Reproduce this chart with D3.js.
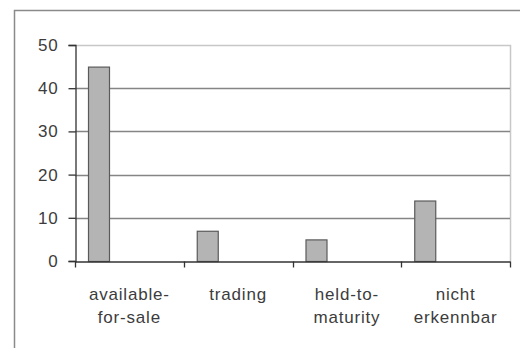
<!DOCTYPE html>
<html>
<head>
<meta charset="utf-8">
<script src="https://cdn.jsdelivr.net/npm/d3@7"></script>
<style>
  body { margin: 0; background: #fff; }
  svg { display: block; }
</style>
</head>
<body>
<div id="chart"></div>
<script>
const categories = ['available-for-sale', 'trading', 'held-to-maturity', 'nicht erkennbar'];
const labelLines = [['available-', 'for-sale'], ['trading'], ['held-to-', 'maturity'], ['nicht', 'erkennbar']];
const values = [45, 7, 5, 14];
const yTicks = [0, 10, 20, 30, 40, 50];

const w = 520, h = 348;
const padL = 75, padR = 510, padT = 45, padB = 261;

const svg = d3.select('#chart')
    .append('svg')
    .attr('width', w)
    .attr('height', h)
    .style('font-family', 'Liberation Sans, Arial, sans-serif');

// outer frame (only left and top edges visible)
svg.append('path')
    .attr('d', `M14.5,${h} L14.5,10.5 L${w},10.5`)
    .attr('fill', 'none')
    .attr('stroke', '#8a8a8a')
    .attr('stroke-width', 1.5);

const x = d3.scaleBand()
    .domain(categories)
    .range([padL, padR]);

const y = d3.scaleLinear()
    .domain([0, 50])
    .range([padB, padT]);

// plot area border (top + right, light)
svg.append('path')
    .attr('d', `M${padL},${padT + 0.5} L${padR + 0.5},${padT + 0.5} L${padR + 0.5},${padB}`)
    .attr('fill', 'none')
    .attr('stroke', '#c8c8c8')
    .attr('stroke-width', 1.5);

// gridlines
svg.append('g')
    .selectAll('line')
    .data(yTicks.filter(d => d > 0 && d < 50))
    .enter()
    .append('line')
    .attr('x1', padL)
    .attr('x2', padR)
    .attr('y1', d => Math.round(y(d)) + 0.5)
    .attr('y2', d => Math.round(y(d)) + 0.5)
    .attr('stroke', '#858585')
    .attr('stroke-width', 1.3);

// bars
const barOffset = 13, barWidth = 22;
svg.append('g')
    .selectAll('rect')
    .data(values)
    .enter()
    .append('rect')
    .attr('x', (d, i) => x(categories[i]) + barOffset + 0.5)
    .attr('y', d => y(d) + 0.5)
    .attr('width', barWidth - 1)
    .attr('height', d => padB - y(d))
    .attr('fill', '#b4b4b4')
    .attr('stroke', '#5a5a5a')
    .attr('stroke-width', 1.2);

// y axis
const yAxis = d3.axisLeft(y)
    .tickValues(yTicks)
    .tickSize(7)
    .tickPadding(10);

const gy = svg.append('g')
    .attr('transform', `translate(${padL + 0.5},0)`)
    .call(yAxis);
gy.select('.domain').attr('stroke', '#333').attr('stroke-width', 1.3);
gy.selectAll('.tick line').attr('stroke', '#333').attr('stroke-width', 1.3);
gy.selectAll('.tick text')
    .attr('font-size', 17)
    .attr('letter-spacing', 0.8)
    .attr('fill', '#3c3c3c')
    .attr('font-family', 'Liberation Sans, Arial, sans-serif');

// x axis
const xAxis = d3.axisBottom(x)
    .tickValues([])
    .tickSizeOuter(0);
const gx = svg.append('g')
    .attr('transform', `translate(0,${padB + 0.5})`)
    .call(xAxis);
gx.select('.domain').attr('stroke', '#333').attr('stroke-width', 1.3);

// category separator ticks
const sep = categories.map(c => x(c)).concat([padR]);
gx.selectAll('.sep')
    .data(sep)
    .enter()
    .append('line')
    .attr('x1', d => Math.round(d) + 0.5)
    .attr('x2', d => Math.round(d) + 0.5)
    .attr('y1', 0)
    .attr('y2', 6)
    .attr('stroke', '#333')
    .attr('stroke-width', 1.3);

// category labels
const lab = svg.append('g')
    .selectAll('text')
    .data(categories)
    .enter()
    .append('text')
    .attr('x', d => x(d) + x.bandwidth() / 2)
    .attr('y', 300)
    .attr('text-anchor', 'middle')
    .attr('font-size', 17)
    .attr('letter-spacing', 0.8)
    .attr('fill', '#3c3c3c');

lab.selectAll('tspan')
    .data((d, i) => labelLines[i])
    .enter()
    .append('tspan')
    .attr('x', function () { return this.parentNode.getAttribute('x'); })
    .attr('dy', (d, i) => i === 0 ? 0 : 23)
    .text(d => d);
</script>
</body>
</html>
